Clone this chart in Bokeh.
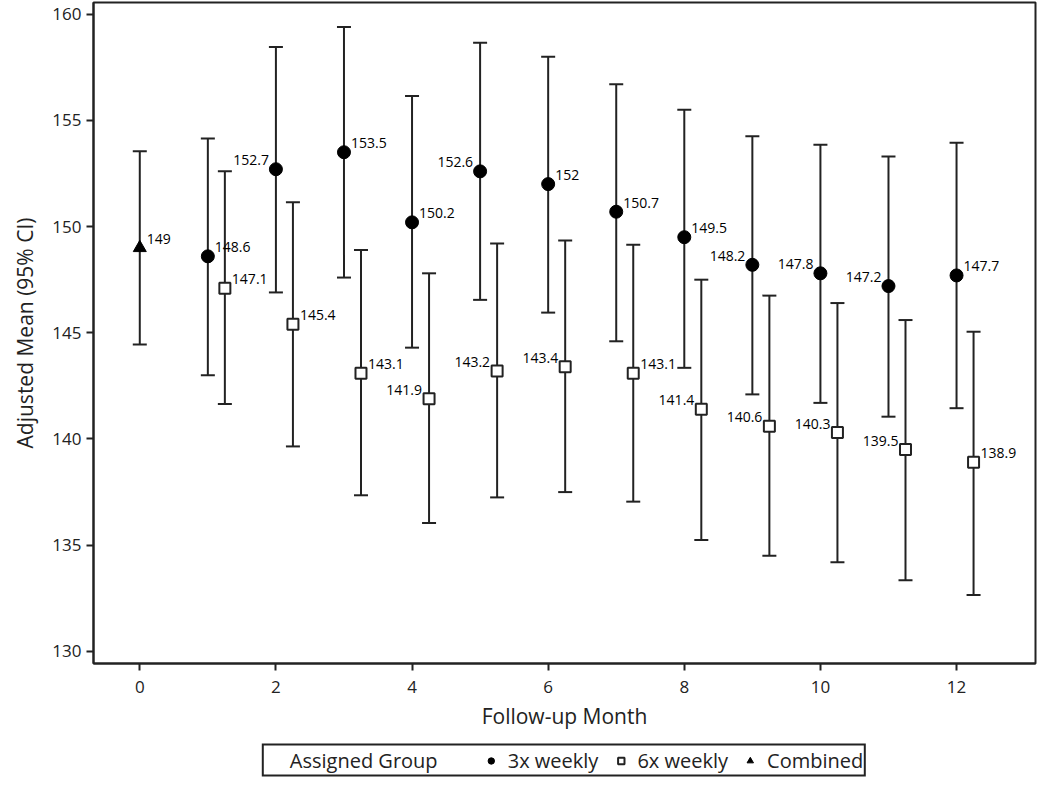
from bokeh.plotting import figure
from bokeh.layouts import column
from bokeh.models import (ColumnDataSource, Whisker, TeeHead, Range1d, FixedTicker,
                          Legend, LegendItem)
from bokeh.embed import file_html
from bokeh.resources import INLINE
from bokeh.core.properties import value

# ---- data -------------------------------------------------------------
months = [1, 2, 3, 4, 5, 6, 7, 8, 9, 10, 11, 12]

mean_3x = [148.6, 152.7, 153.5, 150.2, 152.6, 152.0, 150.7, 149.5, 148.2, 147.8, 147.2, 147.7]
lower_3x = [143.0, 146.9, 147.6, 144.3, 146.55, 145.95, 144.6, 143.35, 142.1, 141.7, 141.05, 141.45]
upper_3x = [154.15, 158.45, 159.4, 156.15, 158.65, 158.0, 156.7, 155.5, 154.25, 153.85, 153.3, 153.95]
side_3x = ["right", "left", "right", "right", "left", "right", "right", "right", "left", "left", "left", "right"]

mean_6x = [147.1, 145.4, 143.1, 141.9, 143.2, 143.4, 143.1, 141.4, 140.6, 140.3, 139.5, 138.9]
lower_6x = [141.65, 139.65, 137.35, 136.05, 137.25, 137.5, 137.05, 135.25, 134.5, 134.2, 133.35, 132.65]
upper_6x = [152.6, 151.15, 148.9, 147.8, 149.2, 149.35, 149.15, 147.5, 146.75, 146.4, 145.6, 145.05]
side_6x = ["right", "right", "right", "left", "left", "left", "right", "left", "left", "left", "left", "right"]

months_comb = [0]
mean_comb = [149.0]
lower_comb = [144.45]
upper_comb = [153.55]
side_comb = ["right"]

x_ticks = [0, 2, 4, 6, 8, 10, 12]
y_ticks = [130, 135, 140, 145, 150, 155, 160]

legend_heading = "Assigned Group"
group_names = ["3x weekly", "6x weekly", "Combined"]

DODGE_6X = 0.25
FONT = "Open Sans"
INK = "#222222"


def make_source(xs, means, lows, ups, sides):
    return ColumnDataSource(dict(
        x=xs, y=means, lower=lows, upper=ups,
        label=[f"{v:g}" for v in means],
        align=["left" if s == "right" else "right" for s in sides],
        xo=[7 if s == "right" else -7 for s in sides],
        yo=[-9 for _ in sides],
    ))


src_3x = make_source(months, mean_3x, lower_3x, upper_3x, side_3x)
src_6x = make_source([m + DODGE_6X for m in months], mean_6x, lower_6x, upper_6x, side_6x)
src_c = make_source(months_comb, mean_comb, lower_comb, upper_comb, side_comb)

p = figure(width=1038, height=743, output_backend="svg", toolbar_location=None,
           x_range=Range1d(-0.68, 13.16), y_range=Range1d(129.43, 160.55),
           min_border_left=93, min_border_right=3, min_border_top=2,
           min_border_bottom=80)

p.xgrid.visible = False
p.ygrid.visible = False
p.outline_line_color = INK
p.outline_line_width = 2

for ax in (p.xaxis[0], p.yaxis[0]):
    ax.axis_line_color = INK
    ax.axis_line_width = 2
    ax.major_tick_line_color = INK
    ax.major_tick_line_width = 2
    ax.major_tick_out = 7
    ax.major_tick_in = 0
    ax.minor_tick_line_color = None
    ax.major_label_text_font = FONT
    ax.major_label_text_font_size = "17px"
    ax.major_label_text_color = INK
    ax.axis_label_text_font = FONT
    ax.axis_label_text_font_size = "21px"
    ax.axis_label_text_font_style = "normal"
    ax.axis_label_text_color = INK

p.xaxis.ticker = FixedTicker(ticks=x_ticks)
p.yaxis.ticker = FixedTicker(ticks=y_ticks)
p.xaxis.axis_label = "Follow-up Month"
p.yaxis.axis_label = "Adjusted Mean (95% CI)"
p.xaxis.axis_label_standoff = 6
p.yaxis.axis_label_standoff = 10
p.xaxis.major_label_standoff = 10

for src in (src_c, src_3x, src_6x):
    w = Whisker(source=src, base="x", lower="lower", upper="upper",
                line_color=INK, line_width=2,
                upper_head=TeeHead(size=14, line_color=INK, line_width=2),
                lower_head=TeeHead(size=14, line_color=INK, line_width=2))
    p.add_layout(w)

STYLE_3X = dict(marker="circle", fill_color="black", line_color="black")
STYLE_6X = dict(marker="square", fill_color="white", line_color=INK, line_width=2)
STYLE_C = dict(marker="triangle", fill_color="black", line_color="black")

p.scatter("x", "y", source=src_3x, size=13, **STYLE_3X)
p.scatter("x", "y", source=src_6x, size=11, **STYLE_6X)
p.scatter("x", "y", source=src_c, size=13, **STYLE_C)

for src in (src_c, src_3x, src_6x):
    p.text("x", "y", text="label", source=src, x_offset="xo", y_offset="yo",
           text_align="align", text_baseline="middle",
           text_font=value(FONT), text_font_size="14px", text_color="black")

# ---- legend strip below the plot -------------------------------------
# (its ranges exclude the data, so the key renderers only feed the legend)
lg = figure(width=1038, height=34, output_backend="svg", toolbar_location=None,
            x_range=Range1d(0, 1), y_range=Range1d(0, 1),
            x_axis_location=None, y_axis_location=None,
            min_border_left=92, min_border_right=0, min_border_top=0, min_border_bottom=0)
lg.xgrid.visible = False
lg.ygrid.visible = False
lg.outline_line_color = None

r_head = lg.scatter("x", "y", source=src_c, marker="circle", size=1,
                    fill_alpha=0, line_alpha=0)
l_3x = lg.scatter("x", "y", source=src_3x, size=13, **STYLE_3X)
l_6x = lg.scatter("x", "y", source=src_6x, size=11, **STYLE_6X)
l_c = lg.scatter("x", "y", source=src_c, size=13, **STYLE_C)

items = [LegendItem(label=legend_heading + "      ", renderers=[r_head]),
         LegendItem(label=group_names[0], renderers=[l_3x]),
         LegendItem(label=group_names[1], renderers=[l_6x]),
         LegendItem(label=group_names[2], renderers=[l_c])]
legend = Legend(items=items, orientation="horizontal", location="center")
legend.label_text_font = FONT
legend.label_text_font_size = "20px"
legend.label_text_color = INK
legend.border_line_color = INK
legend.border_line_alpha = 1.0
legend.border_line_width = 2
legend.background_fill_alpha = 1.0
legend.padding = 1
legend.margin = 0
legend.spacing = 14
legend.glyph_width = 16
legend.glyph_height = 16
legend.label_standoff = 9
legend.label_height = 20
lg.add_layout(legend, "center")

layout = column(p, lg, spacing=0)
open("out.html", "w").write(file_html(layout, INLINE))
